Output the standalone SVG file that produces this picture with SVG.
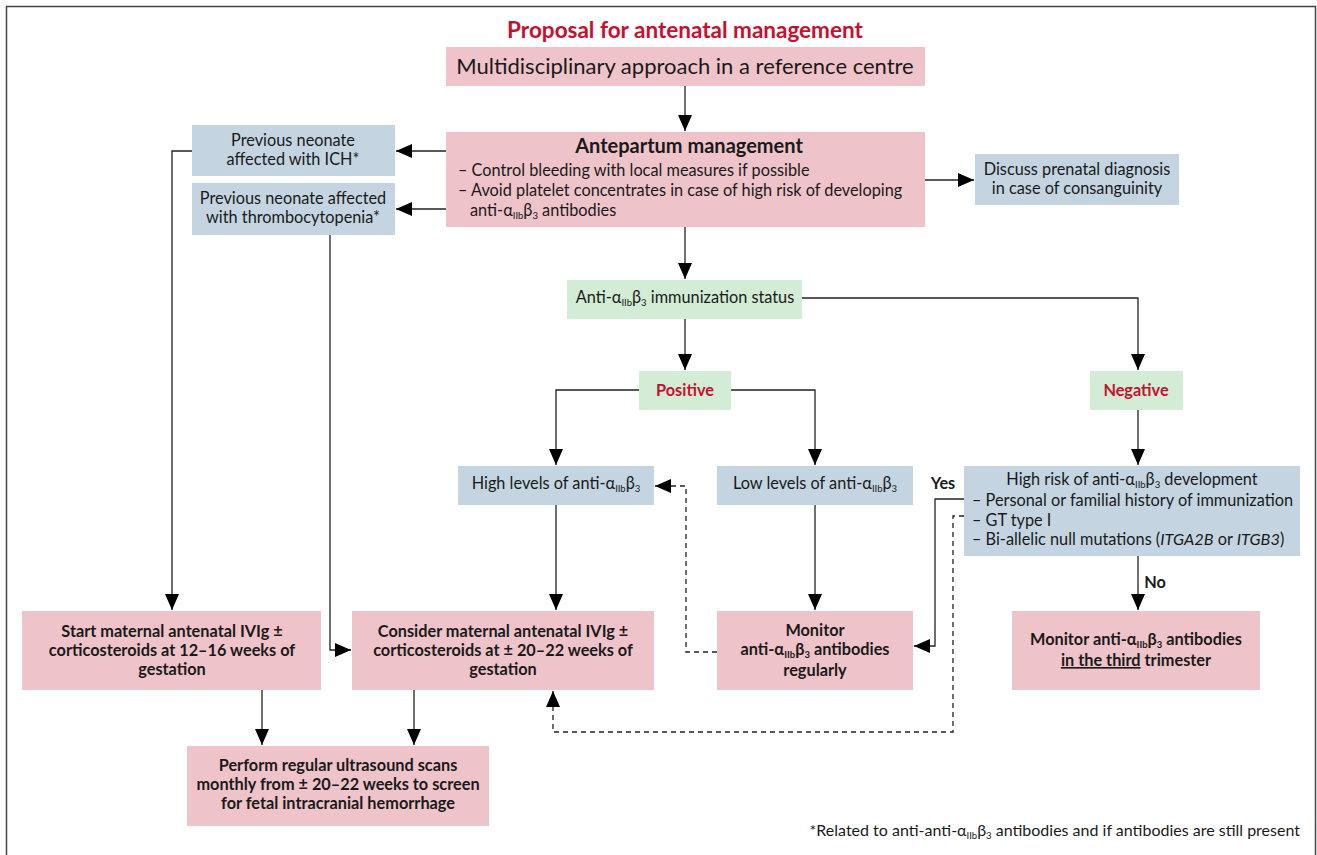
<svg xmlns="http://www.w3.org/2000/svg" width="1317" height="855" viewBox="0 0 1317 855">
<defs>
<marker id="ah" markerWidth="16" markerHeight="14" viewBox="0 0 16 14" refX="16" refY="7" orient="auto" markerUnits="userSpaceOnUse"><path d="M0,0 L16,7 L0,14 Z" fill="#000"/></marker>
</defs>
<style>
text{font-family:Lato,"Open Sans","Liberation Sans",sans-serif;fill:#1a1a1a;font-size:16.3px}
.pink{fill:#efc3ca}
.blue{fill:#c4d5e1}
.green{fill:#d2ecd5}
.c{text-anchor:middle}
.b{font-weight:bold}
.red{fill:#c8102e;font-weight:bold}
.ln{fill:none;stroke:#222;stroke-width:1.3}
.arr{marker-end:url(#ah)}
.dash{stroke-dasharray:5 4}
.sub{font-size:9.5px}
</style>
<rect width="1317" height="855" fill="#fff"/>
<path d="M6.5,855 V6.5 H1315.5 V855" fill="none" stroke="#444" stroke-width="1.5"/>

<text x="685" y="38" class="c red" style="font-size:22.5px">Proposal for antenatal management</text>

<g id="connectors">
<path class="ln arr" d="M685,86 V131"/>
<path class="ln arr" d="M446,151 H396"/>
<path class="ln arr" d="M446,209 H396"/>
<path class="ln arr" d="M925,180 H974"/>
<path class="ln arr" d="M685,227 V279"/>
<path class="ln arr" d="M802,298 H1138 V370"/>
<path class="ln arr" d="M685,319 V370"/>
<path class="ln arr" d="M639,390 H556 V465"/>
<path class="ln arr" d="M731,390 H815 V465"/>
<path class="ln arr" d="M556,505 V610"/>
<path class="ln arr" d="M815,505 V610"/>
<path class="ln arr" d="M1138,410 V465"/>
<path class="ln arr" d="M1138,556 V610"/>
<path class="ln arr" d="M964,499 H935 V646 H914"/>
<path class="ln arr dash" d="M964,516 H953 V732 H553 V691"/>
<path class="ln arr dash" d="M717,652 H686 V486 H655"/>
<path class="ln arr" d="M192,151 H172 V610"/>
<path class="ln arr" d="M330,235 V650 H351"/>
<path class="ln arr" d="M262,690 V745"/>
<path class="ln arr" d="M414,690 V745"/>
</g>

<g id="multidisciplinary">
<rect class="pink" x="446" y="47" width="479" height="39"/>
<text x="685" y="74" class="c" style="font-size:22px">Multidisciplinary approach in a reference centre</text>
</g>

<g id="antepartum">
<rect class="pink" x="446" y="132" width="479" height="95"/>
<text x="689" y="153" class="c b" style="font-size:20px">Antepartum management</text>
<text x="458" y="176">– Control bleeding with local measures if possible</text>
<text x="458" y="196">– Avoid platelet concentrates in case of high risk of developing</text>
<text x="470" y="216">anti-α<tspan class="sub" dy="3">IIb</tspan><tspan dy="-3">β</tspan><tspan class="sub" dy="3">3</tspan><tspan dy="-3"> antibodies</tspan></text>
</g>

<g id="ich">
<rect class="blue" x="192" y="125" width="203" height="51"/>
<text x="293" y="146" class="c">Previous neonate</text>
<text x="293" y="165" class="c">affected with ICH*</text>
</g>

<g id="thrombo">
<rect class="blue" x="192" y="183" width="203" height="52"/>
<text x="293" y="204" class="c">Previous neonate affected</text>
<text x="293" y="223" class="c">with thrombocytopenia*</text>
</g>

<g id="discuss">
<rect class="blue" x="975" y="154" width="204" height="51"/>
<text x="1077" y="175" class="c">Discuss prenatal diagnosis</text>
<text x="1077" y="194" class="c">in case of consanguinity</text>
</g>

<g id="immunization">
<rect class="green" x="567" y="280" width="235" height="39"/>
<text x="685" y="303" class="c">Anti-α<tspan class="sub" dy="3">IIb</tspan><tspan dy="-3">β</tspan><tspan class="sub" dy="3">3</tspan><tspan dy="-3"> immunization status</tspan></text>
</g>

<g id="positive">
<rect class="green" x="639" y="371" width="92" height="39"/>
<text x="685" y="396" class="c red">Positive</text>
</g>

<g id="negative">
<rect class="green" x="1090" y="371" width="93" height="39"/>
<text x="1136" y="396" class="c red">Negative</text>
</g>

<g id="high-levels">
<rect class="blue" x="458" y="466" width="196" height="39"/>
<text x="556" y="489" class="c">High levels of anti-α<tspan class="sub" dy="3">IIb</tspan><tspan dy="-3">β</tspan><tspan class="sub" dy="3">3</tspan></text>
</g>

<g id="low-levels">
<rect class="blue" x="717" y="466" width="196" height="39"/>
<text x="815" y="489" class="c">Low levels of anti-α<tspan class="sub" dy="3">IIb</tspan><tspan dy="-3">β</tspan><tspan class="sub" dy="3">3</tspan></text>
</g>

<g id="high-risk">
<rect class="blue" x="964" y="466" width="336" height="90"/>
<text x="1132" y="485" class="c">High risk of anti-α<tspan class="sub" dy="3">IIb</tspan><tspan dy="-3">β</tspan><tspan class="sub" dy="3">3</tspan><tspan dy="-3"> development</tspan></text>
<text x="972" y="506">– Personal or familial history of immunization</text>
<text x="972" y="526">– GT type I</text>
<text x="972" y="545">– Bi-allelic null mutations (<tspan font-style="italic">ITGA2B</tspan> or <tspan font-style="italic">ITGB3</tspan>)</text>
</g>

<text x="943" y="489" class="c b">Yes</text>
<text x="1155" y="588" class="c b">No</text>

<g id="start-ivig">
<rect class="pink" x="22" y="611" width="299" height="79"/>
<text x="172" y="637" class="c b">Start maternal antenatal IVIg ±</text>
<text x="172" y="656" class="c b">corticosteroids at 12–16 weeks of</text>
<text x="172" y="675" class="c b">gestation</text>
</g>

<g id="consider-ivig">
<rect class="pink" x="352" y="611" width="302" height="79"/>
<text x="503" y="637" class="c b">Consider maternal antenatal IVIg ±</text>
<text x="503" y="656" class="c b">corticosteroids at ± 20–22 weeks of</text>
<text x="503" y="675" class="c b">gestation</text>
</g>

<g id="monitor-regularly">
<rect class="pink" x="717" y="611" width="196" height="79"/>
<text x="815" y="636" class="c b">Monitor</text>
<text x="815" y="655" class="c b">anti-α<tspan class="sub" dy="3">IIb</tspan><tspan dy="-3">β</tspan><tspan class="sub" dy="3">3</tspan><tspan dy="-3"> antibodies</tspan></text>
<text x="815" y="676" class="c b">regularly</text>
</g>

<g id="monitor-third">
<rect class="pink" x="1012" y="611" width="248" height="79"/>
<text x="1136" y="645" class="c b">Monitor anti-α<tspan class="sub" dy="3">IIb</tspan><tspan dy="-3">β</tspan><tspan class="sub" dy="3">3</tspan><tspan dy="-3"> antibodies</tspan></text>
<text x="1136" y="666" class="c b"><tspan text-decoration="underline">in the third</tspan> trimester</text>
</g>

<g id="ultrasound">
<rect class="pink" x="187" y="746" width="302" height="80"/>
<text x="338" y="771" class="c b">Perform regular ultrasound scans</text>
<text x="338" y="790" class="c b">monthly from ± 20–22 weeks to screen</text>
<text x="338" y="809" class="c b">for fetal intracranial hemorrhage</text>
</g>

<text x="1300" y="836" text-anchor="end" style="font-size:16px">*Related to anti-anti-α<tspan class="sub" dy="3">IIb</tspan><tspan dy="-3">β</tspan><tspan class="sub" dy="3">3</tspan><tspan dy="-3"> antibodies and if antibodies are still present</tspan></text>
</svg>
